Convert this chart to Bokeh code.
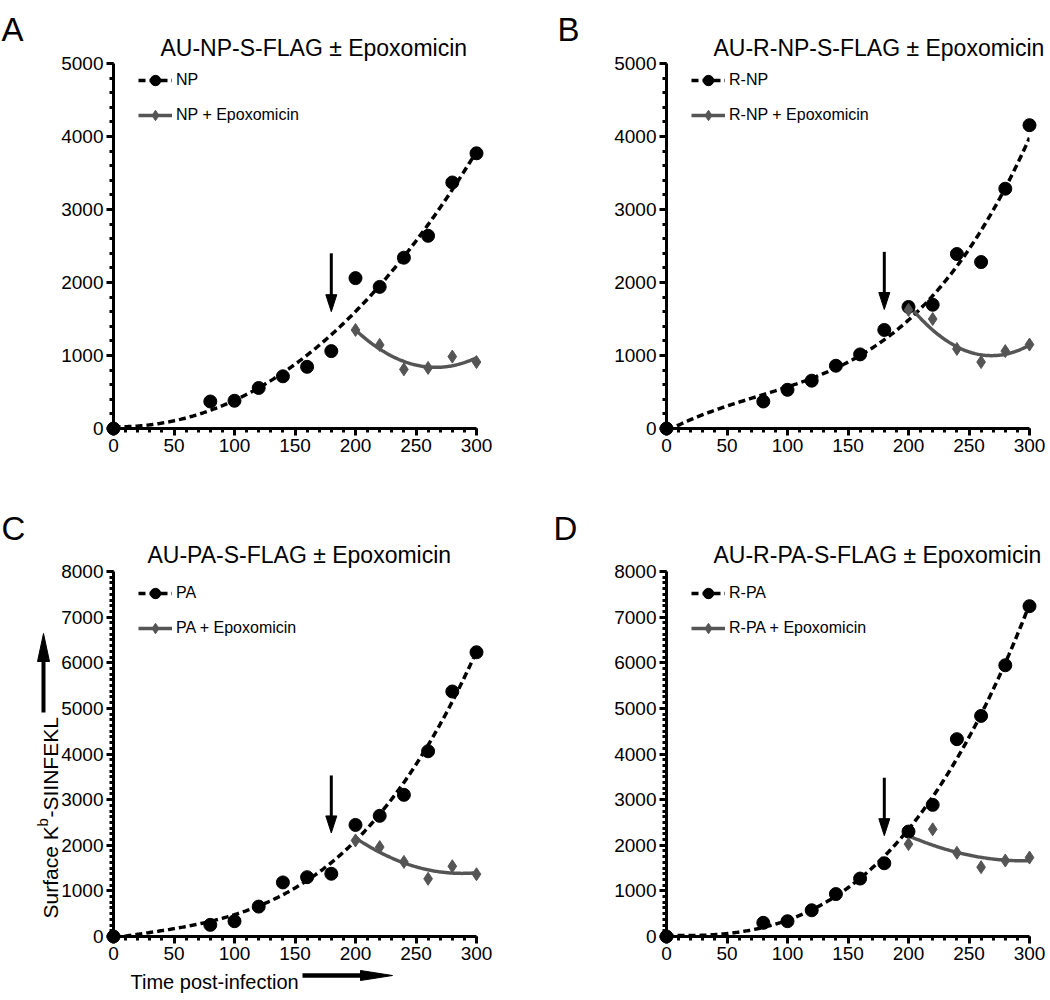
import math
import numpy as np
from bokeh.plotting import figure
from bokeh.models import Range1d, Legend, LegendItem, FixedTicker
from bokeh.layouts import column, row
from bokeh.embed import file_html
from bokeh.resources import INLINE
from bokeh.core.properties import value

# ---------------- data ----------------
time = [0, 80, 100, 120, 140, 160, 180, 200, 220, 240, 260, 280, 300]
epox_time = [200, 220, 240, 260, 280, 300]

np_vals = [0, 370, 380, 555, 715, 845, 1060, 2060, 1940, 2340, 2640, 3370, 3770]
np_epox = [1350, 1145, 810, 830, 985, 910]
rnp_vals = [0, 370, 530, 655, 860, 1015, 1350, 1665, 1695, 2390, 2280, 3285, 4155]
rnp_epox = [1625, 1500, 1090, 910, 1060, 1150]
pa_vals = [0, 255, 335, 655, 1185, 1300, 1375, 2445, 2645, 3105, 4060, 5370, 6230]
pa_epox = [2105, 1960, 1635, 1265, 1540, 1365]
rpa_vals = [0, 300, 335, 575, 930, 1270, 1605, 2300, 2885, 4325, 4835, 5945, 7240]
rpa_epox = [2025, 2350, 1835, 1520, 1665, 1730]

x_ticks = [0, 50, 100, 150, 200, 250, 300]
y_ticks_small = [0, 1000, 2000, 3000, 4000, 5000]
y_ticks_large = [0, 1000, 2000, 3000, 4000, 5000, 6000, 7000, 8000]

arrow_time = 180
arrow_spans = {"A": (2400, 1600), "B": (2420, 1630), "C": (3530, 2270), "D": (3480, 2210)}

FONT = "Liberation Sans"
GRAY = "#555555"
FW, FH = 363, 365


def make_panel(key, title, main_label, main_vals, epox_vals, ymax, y_ticks, y_minor_step,
               fig_x, fig_y, frame_left, frame_top, br, bb, letter_pos, title_pos, legend_bottom,
               axis_labels=False):
    bl = frame_left - fig_x
    bt = frame_top - fig_y
    p = figure(frame_width=FW, frame_height=FH,
               x_range=Range1d(0, 300), y_range=Range1d(0, ymax),
               output_backend="svg", toolbar_location=None,
               min_border_left=bl, min_border_right=br,
               min_border_top=bt, min_border_bottom=bb)
    p.xgrid.visible = False
    p.ygrid.visible = False
    p.outline_line_color = None
    p.background_fill_color = "white"
    p.border_fill_color = "white"

    p.xaxis.ticker = FixedTicker(ticks=x_ticks, minor_ticks=list(range(0, 301, 10)))
    p.yaxis.ticker = FixedTicker(ticks=y_ticks, minor_ticks=list(range(0, ymax + 1, y_minor_step)))
    for ax in (p.xaxis[0], p.yaxis[0]):
        ax.axis_line_width = 3
        ax.axis_line_color = "black"
        ax.major_tick_line_width = 3
        ax.major_tick_out = 7
        ax.major_tick_in = 0
        ax.minor_tick_line_width = 3
        ax.minor_tick_out = 4
        ax.minor_tick_in = 0
        ax.major_label_text_font = FONT
        ax.major_label_text_font_size = "19px"
        ax.major_label_text_color = "black"
        ax.major_label_standoff = 3

    # page px -> data (page px equal canvas px of the whole layout)
    def dx(px):
        return (px - frame_left) / FW * 300

    def dy(py):
        return (frame_top + FH - py) / FH * ymax

    def px_of(x):
        return frame_left + x / 300 * FW

    def py_of(y):
        return frame_top + FH - y / ymax * FH

    def arrow(x0, y0, x1, y1, lw, hl, hw):
        vx, vy = x1 - x0, y1 - y0
        n = math.hypot(vx, vy)
        ux, uy = vx / n, vy / n
        bx, by = x1 - ux * hl, y1 - uy * hl
        nx, ny = -uy, ux
        p.segment(x0=[dx(x0)], y0=[dy(y0)], x1=[dx(bx + ux * 2)], y1=[dy(by + uy * 2)],
                  line_width=lw, line_color="black", level="overlay")
        p.patch([dx(x1), dx(bx + nx * hw), dx(bx - nx * hw)],
                [dy(y1), dy(by + ny * hw), dy(by - ny * hw)],
                fill_color="black", line_color="black", line_width=1, level="overlay")

    def txt(x_px, y_px, s, size, angle=0.0):
        p.text(x=[dx(x_px)], y=[dy(y_px)], text=[s], text_font=value(FONT),
               text_font_size=size, text_align="left", text_baseline="alphabetic",
               angle=angle, text_color="black", level="overlay")

    # fitted curves
    xs = np.linspace(0, 300, 301)
    c_main = np.polyfit(time, main_vals, 3)
    ys = np.clip(np.polyval(c_main, xs), 0, None)
    xe = np.linspace(200, 300, 101)
    c_ep = np.polyfit(epox_time, epox_vals, 2)
    ye = np.polyval(c_ep, xe)

    l_main = p.line(xs, ys, line_color="black", line_width=3.5, line_dash="7 4")
    s_main = p.scatter(time, main_vals, marker="circle", size=13, color="black", level="overlay")
    l_ep = p.line(xe, ye, line_color=GRAY, line_width=3.5)
    s_ep = p.scatter(epox_time, epox_vals, marker="diamond", size=13,
                     color=GRAY, level="overlay")

    legend = Legend(items=[LegendItem(label=main_label, renderers=[l_main, s_main]),
                           LegendItem(label=main_label + " + Epoxomicin", renderers=[l_ep, s_ep])],
                    location=(25, legend_bottom), padding=0, margin=0, spacing=9,
                    glyph_width=34, glyph_height=26, label_height=20, label_standoff=4,
                    label_text_font=FONT, label_text_font_size="16px", label_text_color="black",
                    border_line_color=None, background_fill_alpha=0)
    p.add_layout(legend)

    # arrow marking epoxomicin addition
    top, tip = arrow_spans[key]
    arrow(px_of(arrow_time), py_of(top), px_of(arrow_time), py_of(tip), 3, 17, 5.5)

    # title and panel letter
    txt(title_pos[0], title_pos[1], title, "23px")
    txt(letter_pos[0], letter_pos[1], key, "33px")

    if axis_labels:
        rot = math.pi / 2
        txt(50, 918, "Surface K", "21px", rot)
        txt(42, 826, "b", "15px", rot)
        txt(50, 817, "-SIINFEKL", "21px", rot)
        arrow(43, 712, 43, 633, 4, 28, 6)
        txt(130, 981, "Time post-infection", "20px")
        arrow(302, 975, 392, 975, 4.5, 32, 5)
    return p


TOP_H = 478
BOTTOM_END = 994
pA = make_panel("A", "AU-NP-S-FLAG \u00b1 Epoxomicin", "NP", np_vals, np_epox, 5000, y_ticks_small, 200,
                0, 0, 113, 63, 49, TOP_H - 63 - FH, (1, 29), (160, 47), 300)
pB = make_panel("B", "AU-R-NP-S-FLAG \u00b1 Epoxomicin", "R-NP", rnp_vals, rnp_epox, 5000, y_ticks_small, 200,
                525, 0, 666, 63, 21, TOP_H - 63 - FH, (557, 29), (713, 47), 300)
pC = make_panel("C", "AU-PA-S-FLAG \u00b1 Epoxomicin", "PA", pa_vals, pa_epox, 8000, y_ticks_large, 125,
                0, TOP_H, 113, 571, 49, BOTTOM_END - 571 - FH, (1, 528), (147, 554), 295, axis_labels=True)
pD = make_panel("D", "AU-R-PA-S-FLAG \u00b1 Epoxomicin", "R-PA", rpa_vals, rpa_epox, 8000, y_ticks_large, 125,
                525, TOP_H, 666, 571, 21, BOTTOM_END - 571 - FH, (553, 528), (713, 554), 295)

layout = column(row(pA, pB), row(pC, pD))
open("out.html", "w").write(file_html(layout, INLINE))
